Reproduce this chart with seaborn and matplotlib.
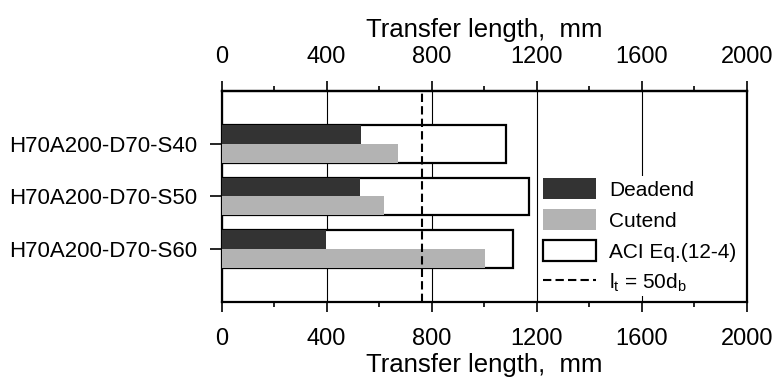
import matplotlib
matplotlib.use("Agg")
import matplotlib.pyplot as plt
from matplotlib.patches import Patch
from matplotlib.lines import Line2D
from matplotlib.ticker import MultipleLocator
import seaborn as sns
import pandas as pd

# Measured transfer lengths (mm)
specimens = ["H70A200-D70-S40", "H70A200-D70-S50", "H70A200-D70-S60"]
deadend = [530, 527, 396]
cutend = [670, 617, 1003]
aci_eq = [1085, 1171, 1111]
lt_50db = 762  # 50 * d_b
x_ticks = [0, 400, 800, 1200, 1600, 2000]
end_labels = ["Deadend", "Cutend"]

sns.set_style("white")
plt.rcParams.update({
    "font.family": ["Liberation Sans", "DejaVu Sans"],
    "mathtext.fontset": "custom",
    "mathtext.rm": "Liberation Sans",
    "mathtext.it": "Liberation Sans",
    "text.color": "black",
    "axes.labelcolor": "black",
    "xtick.color": "black",
    "ytick.color": "black",
    "axes.edgecolor": "black",
})

dark, light = "#333333", "#b3b3b3"
dash = (0, (4, 2))

fig = plt.figure(figsize=(7.8, 3.83), dpi=100)
ax = fig.add_axes([0.2842, 0.2107, 0.9573 - 0.2842, 0.7632 - 0.2107])

# ACI equation bars: open boxes spanning the full group height
sns.barplot(x=aci_eq, y=specimens, orient="h", width=0.72, color="white",
            edgecolor="black", linewidth=1.6, saturation=1, errorbar=None,
            ax=ax, zorder=2)

# Measured dead-end / cut-end bars, dodged inside each box
df = pd.DataFrame({
    "Specimen": specimens * 2,
    "Length": deadend + cutend,
    "End": [end_labels[0]] * 3 + [end_labels[1]] * 3,
})
sns.barplot(data=df, x="Length", y="Specimen", hue="End", hue_order=end_labels,
            palette=[dark, light], orient="h", width=0.72, dodge=True,
            saturation=1, linewidth=0, errorbar=None, legend=False,
            ax=ax, zorder=3)

# 50 d_b reference line
ax.axvline(lt_50db, color="black", lw=1.5, ls=dash, zorder=5)

ax.set_xlim(0, 2000)
ax.set_ylim(3.025, -1.025)
ax.set_xticks(x_ticks)
ax.xaxis.set_minor_locator(MultipleLocator(200))
ax.set_ylabel("")
ax.set_xlabel("Transfer length,  mm", fontsize=18.5, labelpad=2)

ax.xaxis.grid(True, which="major", color="black", lw=0.8)
ax.set_axisbelow(True)

for s in ax.spines.values():
    s.set_linewidth(1.6)
    s.set_color("black")

ax.tick_params(axis="x", which="major", direction="out", length=7.5, width=1.2,
               labelsize=17, pad=11, bottom=True, top=False)
ax.tick_params(axis="x", which="minor", direction="out", length=3.5, width=1.2,
               bottom=True, top=False)
ax.tick_params(axis="y", which="major", direction="out", length=8.4, width=1.2,
               labelsize=16, pad=9, left=True, right=False)

# Top axis mirrors the bottom one
top = ax.secondary_xaxis("top")
top.set_xticks(x_ticks)
top.xaxis.set_minor_locator(MultipleLocator(200))
top.tick_params(axis="x", which="major", direction="out", length=7.5, width=1.2,
                labelsize=17, pad=9)
top.tick_params(axis="x", which="minor", direction="out", length=3.5, width=1.2)
top.spines["top"].set_linewidth(1.6)
top.set_xlabel("Transfer length,  mm", fontsize=18.5, labelpad=6)

handles = [
    Patch(facecolor=dark, edgecolor="none"),
    Patch(facecolor=light, edgecolor="none"),
    Patch(facecolor="white", edgecolor="black", linewidth=1.6),
    Line2D([], [], color="black", lw=1.5, ls=dash),
]
labels = end_labels + ["ACI Eq.(12-4)", r"l$_\mathregular{t}$ = 50d$_\mathregular{b}$"]
leg = ax.legend(handles, labels, loc="center left", bbox_to_anchor=(0.6074, 0.3133),
                fontsize=15, frameon=True, fancybox=False, framealpha=1,
                facecolor="white", edgecolor="none", handlelength=2.55,
                handleheight=1.2, handletextpad=0.64, labelspacing=0.45,
                borderpad=0.1, borderaxespad=0)
leg.set_zorder(6)

fig.savefig("out.png", dpi=100)
